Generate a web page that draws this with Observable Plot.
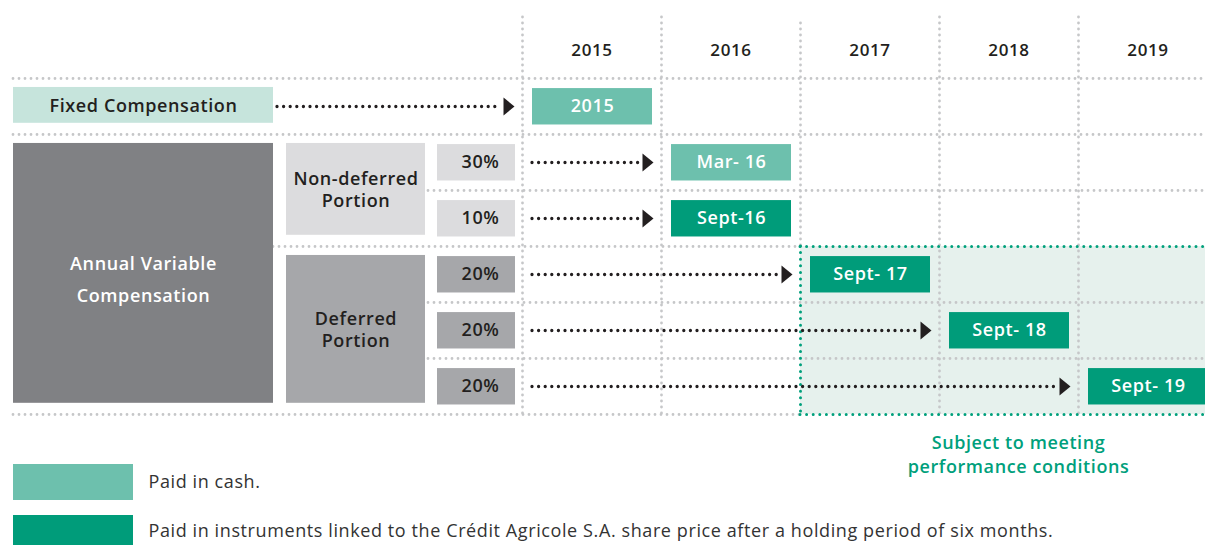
<!DOCTYPE html>
<html>
<head>
<meta charset="utf-8">
<script src="https://cdn.jsdelivr.net/npm/d3@7"></script>
<script src="https://cdn.jsdelivr.net/npm/@observablehq/plot@0.6"></script>
<style>
  html, body { margin: 0; padding: 0; background: #fff; }
  #chart svg { display: block; }
</style>
</head>
<body>
<div id="chart"></div>
<script>
// ---------- data ----------
const years = [2015, 2016, 2017, 2018, 2019];

const components = ["Fixed Compensation", "Annual Variable\nCompensation"];
const componentFirstRow = [1, 2];
const componentLastRow = [1, 6];

const portions = ["Non-deferred\nPortion", "Deferred\nPortion"];
const portionFirstRow = [2, 4];
const portionLastRow = [3, 6];

const shares = ["30%", "10%", "20%", "20%", "20%"];
const shareRows = [2, 3, 4, 5, 6];
const shareKind = ["nondeferred", "nondeferred", "deferred", "deferred", "deferred"];

const payLabels = ["2015", "Mar- 16", "Sept-16", "Sept- 17", "Sept- 18", "Sept- 19"];
const payYears = [2015, 2016, 2016, 2017, 2018, 2019];
const payRows = [1, 2, 3, 4, 5, 6];
const payMethods = ["cash", "cash", "instruments", "instruments", "instruments", "instruments"];

const conditionalFromYear = 2017;
const conditionalRows = [4, 7];
const conditionNote = "Subject to meeting\nperformance conditions";

const legendMethods = ["cash", "instruments"];
const legendLabels = [
  "Paid in cash.",
  "Paid in instruments linked to the Crédit Agricole S.A. share price after a holding period of six months."
];

// ---------- layout (scale units: x = years, y = table rows) ----------
const W = 1205, H = 545;
const COL = 139, ROW = 56;
const X0 = 2015 - 522 / COL, X1 = X0 + W / COL;
const Y0 = -22 / ROW, Y1 = Y0 + H / ROW;
const u = p => X0 + p / COL;   // horizontal layout offset
const v = p => Y0 + p / ROW;   // vertical layout offset

const methodColor = {cash: "#6dc0ad", instruments: "#009c7a"};
const kindColor = {nondeferred: "#dcdcde", deferred: "#a6a7aa"};
const DARK = "#231f20", GREY = "#c6c7c9", GREEN = "#00a07c";

const grayDots = {stroke: GREY, strokeWidth: 2.8, strokeDasharray: "0 6", strokeLinecap: "round"};
const greenDots = {stroke: GREEN, strokeWidth: 3, strokeDasharray: "0 6.6", strokeLinecap: "round"};
const blackDots = {stroke: DARK, strokeWidth: 3.3, strokeDasharray: "0 6.6", strokeLinecap: "round"};

// tables built from the arrays
const payments = payLabels.map((label, i) => ({label, year: payYears[i], row: payRows[i], method: payMethods[i]}));
const shareTable = shares.map((label, i) => ({label, row: shareRows[i], kind: shareKind[i]}));
const compTable = components.map((label, i) => ({label, first: componentFirstRow[i], last: componentLastRow[i]}));
const portionTable = portions.map((label, i) => ({label, first: portionFirstRow[i], last: portionLastRow[i]}));
const legendTable = legendLabels.map((label, i) => ({label, method: legendMethods[i], i}));

const arrows = payments.map(d => ({
  row: d.row,
  start: d.row === 1 ? u(277) : 2015 + 10 / COL,
  tip: d.year - 8 / COL
}));

const vGrid = years.map(y => ({x: y, y1: y === conditionalFromYear ? v(23) : v(17), y2: y === conditionalFromYear ? conditionalRows[0] : 7}));
const hGridRows = [1, 2, 3, 4, 5, 6, 7];
const hGrid = hGridRows.map(r => ({
  y: r,
  x1: (r <= 2 || r === 7) ? u(13) : (r === 4 ? u(273) : u(428)),
  x2: (r === conditionalRows[0] || r === conditionalRows[1]) ? conditionalFromYear : X1
}));

const arrowHead = {
  draw(ctx) { ctx.moveTo(0, 0); ctx.lineTo(-11, -9); ctx.lineTo(-11, 9); ctx.closePath(); }
};

const fixedComp = compTable.filter(d => d.first === d.last);
const variableComp = compTable.filter(d => d.first !== d.last);

const chart = Plot.plot({
  width: W, height: H, margin: 0,
  x: {domain: [X0, X1], range: [0, W], axis: null},
  y: {domain: [Y0, Y1], range: [0, H], axis: null},
  style: {fontFamily: "'Open Sans', sans-serif", fontSize: "18px", letterSpacing: "0.6px", background: "#fff"},
  marks: [
    // conditional zone background
    Plot.rect([0], {x1: conditionalFromYear, x2: X1 + 1, y1: conditionalRows[0], y2: conditionalRows[1], fill: "#e6f1ed"}),
    // grid
    Plot.ruleX(vGrid, {x: "x", y1: "y1", y2: "y2", ...grayDots}),
    Plot.ruleY(hGrid, {y: "y", x1: "x1", x2: "x2", ...grayDots}),
    // conditional zone border
    Plot.ruleY(conditionalRows, {y: d => d, x1: conditionalFromYear, x2: X1 + 1, ...greenDots}),
    Plot.ruleX([conditionalFromYear], {x: d => d, y1: conditionalRows[0], y2: conditionalRows[1], ...greenDots}),
    // left hierarchy
    Plot.rect(compTable, {x1: u(13), x2: u(273), y1: d => d.first + 0.16, y2: d => d.last + 0.8,
      fill: d => d.first === d.last ? "#c6e4dc" : "#808184"}),
    Plot.rect(portionTable, {x1: u(286), x2: u(425), y1: d => d.first + 0.16, y2: d => d.last + 0.8,
      fill: (d, i) => i === 0 ? kindColor.nondeferred : kindColor.deferred}),
    Plot.rect(shareTable, {x1: u(437), x2: u(515), y1: d => d.row + 0.18, y2: d => d.row + 0.83,
      fill: d => kindColor[d.kind]}),
    // payment boxes
    Plot.rect(payments, {x1: d => d.year + 10 / COL, x2: d => d.year + 130 / COL,
      y1: d => d.row + 0.18, y2: d => d.row + 0.83, fill: d => methodColor[d.method]}),
    // arrows
    Plot.ruleY(arrows, {y: d => d.row + 0.5, x1: "start", x2: d => d.tip - 13 / COL, ...blackDots}),
    Plot.dot(arrows, {x: "tip", y: d => d.row + 0.5, symbol: arrowHead, fill: DARK, stroke: null}),
    // texts
    Plot.text(years, {x: d => d + 0.5, y: 0.5, text: d => String(d), fill: DARK, fontWeight: 600, fontSize: 17}),
    Plot.text(fixedComp, {x: u(143), y: d => d.first + 0.5, text: "label", fill: DARK, fontWeight: 600}),
    Plot.text(variableComp, {x: u(143), y: v(280), dy: -4.5, text: "label", fill: "#fff", fontWeight: 600, lineHeight: 1.78}),
    Plot.text(portionTable, {x: u(355.5), y: d => (d.first + d.last + 1) / 2, dy: -1.5, text: "label",
      fill: DARK, fontWeight: 600, lineHeight: 1.22}),
    Plot.text(shareTable, {x: u(499), y: d => d.row + 0.5, text: "label", textAnchor: "end",
      fill: DARK, fontWeight: 600}),
    Plot.text(payments, {x: d => d.year + 70 / COL, y: d => d.row + 0.5, text: "label",
      fill: "#fff", fontWeight: 600}),
    Plot.text([conditionNote], {x: u(1018), y: v(455), dy: -2, text: d => d, fill: GREEN, fontWeight: 600, lineHeight: 1.33}),
    // legend
    Plot.rect(legendTable, {x1: u(13), x2: u(133), y1: d => d.i === 0 ? v(464) : v(515), y2: d => d.i === 0 ? v(500) : v(551),
      fill: d => methodColor[d.method]}),
    Plot.text(legendTable, {x: u(148), y: d => d.i === 0 ? v(482) : v(531), text: "label", textAnchor: "start",
      fill: "#333", fontWeight: 400})
  ]
});
document.getElementById("chart").appendChild(chart);
</script>
</body>
</html>
